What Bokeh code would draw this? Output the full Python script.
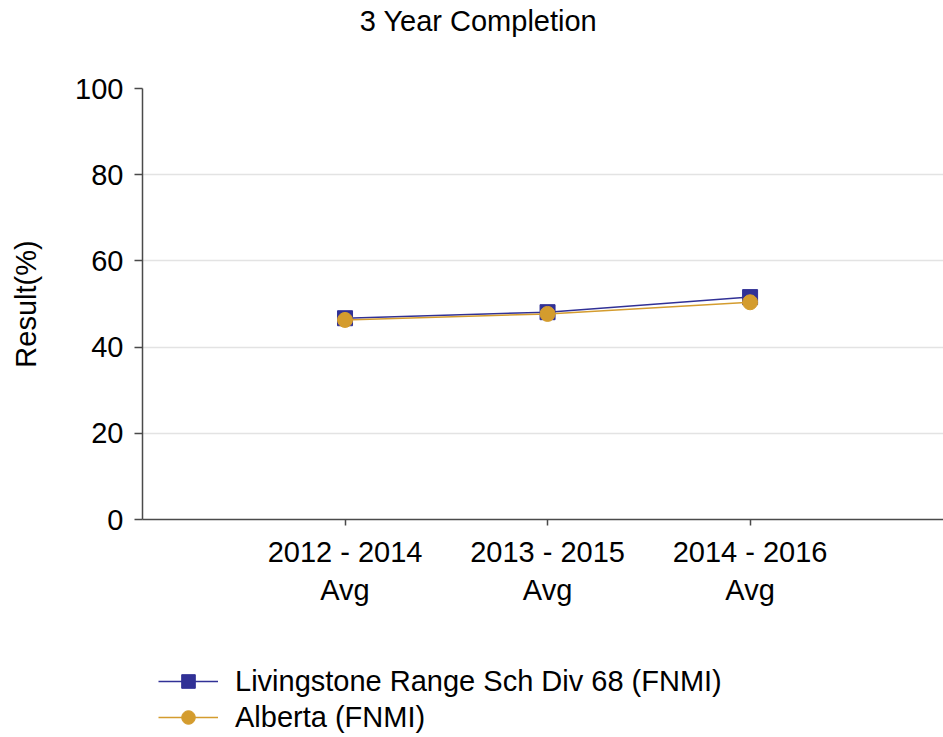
from bokeh.plotting import figure
from bokeh.layouts import column
from bokeh.models import Legend, LegendItem, FixedTicker, Range1d, Label
from bokeh.embed import file_html
from bokeh.resources import INLINE

# ---- data ----
categories = ["2012 - 2014\nAvg", "2013 - 2015\nAvg", "2014 - 2016\nAvg"]
livingstone = [46.7, 48.1, 51.6]
alberta = [46.3, 47.7, 50.4]
series_names = ["Livingstone Range Sch Div 68 (FNMI)", "Alberta (FNMI)"]
y_ticks = [0, 20, 40, 60, 80, 100]
title_text = "3 Year Completion"
y_label = "Result(%)"

FONT = "Liberation Sans"
FS = "29px"
BLUE = "#313196"
GOLD = "#D49C2E"
W = 943

xs = [i + 1 for i in range(len(categories))]


def blank(height):
    f = figure(width=W, height=height, output_backend="svg",
               toolbar_location=None, x_range=Range1d(-10, -9),
               y_range=Range1d(-10, -9), x_axis_location=None,
               y_axis_location=None, min_border=0)
    f.outline_line_color = None
    f.xgrid.visible = False
    f.ygrid.visible = False
    return f


# ---- title strip (frame aligned with main frame, which starts at x=142) ----
pt = blank(68)
pt.add_layout(Label(x=336, y=48, x_units="screen", y_units="screen",
                    text=title_text, text_font=FONT, text_font_size=FS,
                    text_align="center", text_baseline="middle",
                    text_color="black"))

# ---- main chart ----
p = figure(width=W, height=582, output_backend="svg", toolbar_location=None,
           x_range=Range1d(0, 3.955), y_range=Range1d(0, 100),
           min_border_left=142, min_border_right=0, min_border_top=20,
           min_border_bottom=131)
p.outline_line_color = None

l1 = p.line(xs, livingstone, line_color=BLUE, line_width=1.5)
m1 = p.scatter(xs, livingstone, marker="square", size=15, fill_color=BLUE,
               line_color=BLUE)
l2 = p.line(xs, alberta, line_color=GOLD, line_width=1.5)
m2 = p.scatter(xs, alberta, marker="circle", size=15, fill_color=GOLD,
               line_color=GOLD)

ax_col = "#4a4a4a"
p.xaxis.ticker = FixedTicker(ticks=xs)
p.xaxis.major_label_overrides = {x: c for x, c in zip(xs, categories)}
p.yaxis.ticker = FixedTicker(ticks=y_ticks)
for ax in (p.xaxis[0], p.yaxis[0]):
    ax.axis_line_color = ax_col
    ax.axis_line_width = 1.5
    ax.major_tick_line_color = ax_col
    ax.major_tick_line_width = 1.5
    ax.major_tick_in = 0
    ax.minor_tick_line_color = None
    ax.major_label_text_font = FONT
    ax.major_label_text_font_size = FS
    ax.major_label_text_color = "black"
p.xaxis.major_tick_out = 6
p.xaxis.major_label_standoff = 10
p.yaxis.major_tick_out = 8
p.yaxis.major_label_standoff = 11
p.yaxis.axis_label = y_label
p.yaxis.axis_label_text_font = FONT
p.yaxis.axis_label_text_font_size = FS
p.yaxis.axis_label_text_font_style = "normal"
p.yaxis.axis_label_text_color = "black"
p.yaxis.axis_label_standoff = 30

p.xgrid.visible = False
p.ygrid.grid_line_color = "#e3e3e3"
p.ygrid.grid_line_width = 1.5

# ---- legend strip: same series drawn out of view, used only for swatches ----
pl = blank(87)
s1l = pl.line(xs, livingstone, line_color=BLUE, line_width=1.5)
s1m = pl.scatter(xs, livingstone, marker="square", size=15, fill_color=BLUE,
                 line_color=BLUE)
s2l = pl.line(xs, alberta, line_color=GOLD, line_width=1.5)
s2m = pl.scatter(xs, alberta, marker="circle", size=15, fill_color=GOLD,
                 line_color=GOLD)
legend = Legend(items=[LegendItem(label=series_names[0], renderers=[s1l, s1m]),
                       LegendItem(label=series_names[1], renderers=[s2l, s2m])],
                location=(16, 3), orientation="vertical")
legend.glyph_width = 60
legend.glyph_height = 34
legend.label_height = 34
legend.label_standoff = 17
legend.spacing = 2
legend.padding = 0
legend.margin = 0
legend.border_line_color = None
legend.background_fill_alpha = 0
legend.label_text_font = FONT
legend.label_text_font_size = FS
legend.label_text_color = "black"
pl.add_layout(legend, "center")

layout = column(pt, p, pl, spacing=0)
open("out.html", "w").write(file_html(layout, INLINE))
